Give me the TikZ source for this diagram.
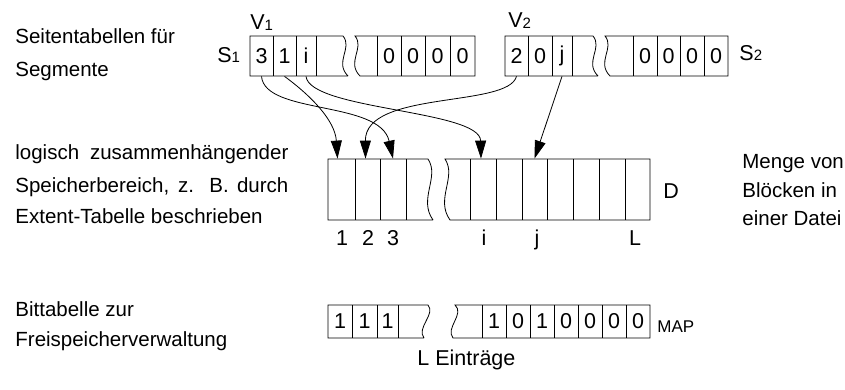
\documentclass[tikz,border=0pt]{standalone}
\usepackage{fontspec}
\setmainfont{Liberation Sans}
\usetikzlibrary{arrows.meta}

\tikzset{
	lbl/.style={anchor=base west, inner sep=0pt, font=\fontsize{20.5}{24}\selectfont},
	num/.style={inner sep=0pt, font=\fontsize{21.5}{24}\selectfont},
	cell/.style={num, minimum height=40pt},
	dcell/.style={inner sep=0pt, minimum width=25pt, minimum height=61pt},
	ptr/.style={-{Triangle[length=18pt,width=11pt]}},
}

\begin{document}
\begin{tikzpicture}[x=1pt, y=-1pt, line width=0.8pt]
	\useasboundingbox (0,0) rectangle (845,390);

	% Beschriftungen links und rechts
	\node[lbl] (sl1) at (15,44) {Seitentabellen für};
	\node[lbl] (sl2) at (15,77) {Segmente};
	\node[lbl] (ll1) at (15,160) {\makebox[273pt][s]{logisch zusammenhängender}};
	\node[lbl] (ll2) at (15,192) {\makebox[273pt][s]{Speicherbereich, z. B. durch}};
	\node[lbl] (ll3) at (15,223) {Extent-Tabelle beschrieben};
	\node[lbl] (bl1) at (15,316) {Bittabelle zur};
	\node[lbl] (bl2) at (15,346) {Freispeicherverwaltung};
	\node[lbl] (ml1) at (742,168) {Menge von};
	\node[lbl] (ml2) at (742,197) {Blöcken in};
	\node[lbl] (ml3) at (742,225) {einer Datei};

	% Seitentabelle S1
	\draw (348,76) -- (250,76) -- (250,36) -- (343,36) .. controls (353,48) and (334,62) .. (348,76);
	\draw (360,76) .. controls (346,62) and (365,48) .. (355,36) -- (475,36) -- (475,76) -- cycle;
	\foreach \x in {273,296,316,377,401,425,450} \draw (\x,36) -- (\x,76);
	\node[cell] (s1a) at (261.5,56) {3};
	\node[cell] (s1b) at (284.5,56) {1};
	\node[cell] (s1c) at (306,56) {i};
	\foreach \x [count=\i] in {389,413,437.5,462.5} \node[cell] (s1z\i) at (\x,56) {0};
	\node[lbl, font=\fontsize{21.5}{24}\selectfont] (v1) at (250,30) {V\raisebox{-1pt}{\fontsize{15}{15}\selectfont 1}};
	\node[lbl, font=\fontsize{21.5}{24}\selectfont] (s1) at (217,63) {S\fontsize{15}{15}\selectfont 1};

	% Seitentabelle S2
	\draw (598,76) -- (505,76) -- (505,36) -- (593,36) .. controls (603,48) and (584,62) .. (598,76);
	\draw (610,76) .. controls (596,62) and (615,48) .. (605,36) -- (728,36) -- (728,76) -- cycle;
	\foreach \x in {528,552,572,633,657,680,704} \draw (\x,36) -- (\x,76);
	\node[cell] (v2a) at (516.5,56) {2};
	\node[cell] (v2b) at (540,56) {0};
	\node[cell] (v2c) at (562,56) {j};
	\foreach \x [count=\i] in {645,668.5,692,716} \node[cell] (s2z\i) at (\x,56) {0};
	\node[lbl, font=\fontsize{21.5}{24}\selectfont] (v2) at (508,28) {V\raisebox{-1pt}{\fontsize{15}{15}\selectfont 2}};
	\node[lbl, font=\fontsize{21.5}{24}\selectfont] (s2) at (739,61) {S\fontsize{15}{15}\selectfont 2};

	% Speicherbereich D
	\draw (433,220) -- (328,220) -- (328,159) -- (428,159) .. controls (440,177) and (418,199) .. (433,220);
	\draw (450,220) .. controls (435,199) and (457,177) .. (445,159) -- (650,159) -- (650,220) -- cycle;
	\foreach \x in {355,380,406,470,496,522,547,573,599,625} \draw (\x,159) -- (\x,220);
	\foreach \n/\x in {1/341.5, 2/367.5, 3/393, i/483, j/534.5} \node[dcell] (d\n) at (\x,189.5) {};
	\foreach \t/\x in {1/342, 2/368, 3/393, i/484, j/537, L/635} \node[num, anchor=base] (n\t) at (\x,245) {\t};
	\node[lbl, font=\fontsize{21.5}{24}\selectfont] (dd) at (663,198) {D};

	% Zeiger
	\draw[ptr] (s1a.south) .. controls (265,115) and (380,100) .. (d3.north);
	\draw[ptr] (s1b.south) .. controls (310,95) and (335,120) .. ([xshift=-4pt]d1.north);
	\draw[ptr] (s1c.south) .. controls (310,110) and (480,110) .. ([xshift=-2pt]di.north);
	\draw[ptr] (v2a.south) .. controls (508,108) and (365,90) .. ([xshift=-2pt]d2.north);
	\draw[ptr] (v2c.south) -- (dj.north);

	% Bittabelle MAP
	\draw (424,338) -- (328,338) -- (328,305) -- (428,305) .. controls (436,314) and (416,328) .. (424,338);
	\draw (453,338) .. controls (445,328) and (465,314) .. (455,305) -- (650,305) -- (650,338) -- cycle;
	\foreach \x in {352,377,398,482,506,530,554,578,602,626} \draw (\x,305) -- (\x,338);
	\foreach \t/\x [count=\i] in {1/340,1/364.5,1/387.5,1/494,0/518,1/542,0/566,0/590,0/614,0/638}
		\node[num] (b\i) at (\x,321.5) {\t};
	\node[lbl, font=\fontsize{17}{20}\selectfont] (map) at (657,332) {MAP};
	\node[lbl, font=\fontsize{21.5}{24}\selectfont] (anz) at (417,365) {L Einträge};

\end{tikzpicture}
\end{document}
